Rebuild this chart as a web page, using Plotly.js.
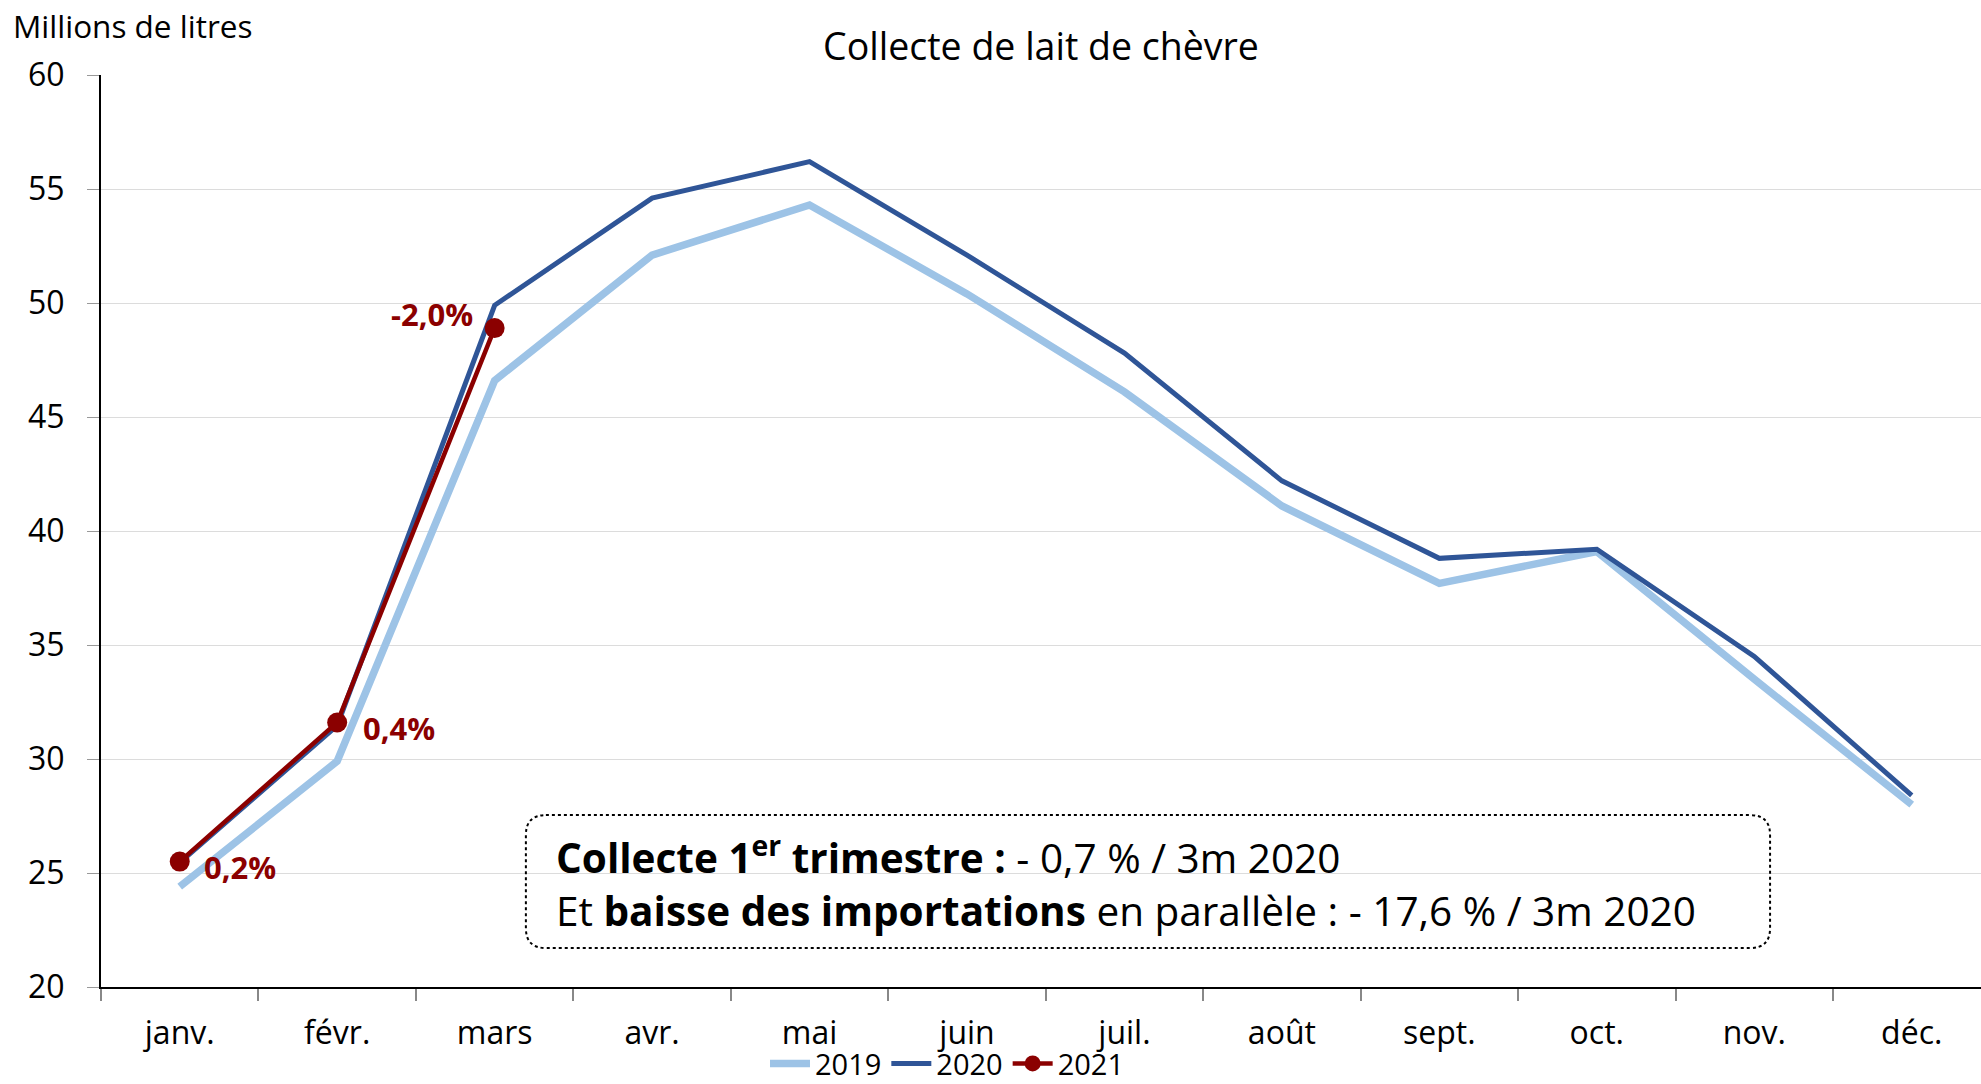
<!DOCTYPE html>
<html>
<head>
<meta charset="utf-8">
<script src="https://cdn.plot.ly/plotly-3.0.1.min.js"></script>
<style>html,body{margin:0;padding:0;background:#fff;}#chart{width:1981px;height:1084px;}</style>
</head>
<body>
<div id="chart"></div>
<script>
const months = ["janv.","févr.","mars","avr.","mai","juin","juil.","août","sept.","oct.","nov.","déc."];
const values2019 = [24.4, 29.9, 46.6, 52.1, 54.3, 50.4, 46.1, 41.1, 37.7, 39.1, 33.5, 28.0];
const values2020 = [25.45, 31.47, 49.9, 54.6, 56.2, 52.1, 47.8, 42.2, 38.8, 39.2, 34.5, 28.4];
const values2021 = [25.5, 31.6, 48.9];
const labels2021 = ["0,2%", "0,4%", "-2,0%"];
const seriesNames = ["2019", "2020", "2021"];
const chartTitle = "Collecte de lait de chèvre";
const yTitle = "Millions de litres";
const boxText = "<b>Collecte 1<sup>er</sup> trimestre :</b> - 0,7 % / 3m 2020<br>Et <b>baisse des importations</b> en parallèle : - 17,6 % / 3m 2020";

const FONT = "'Open Sans', 'Noto Sans', sans-serif";
const RED = "#8B0000";

const traces = [
  {x: months, y: values2019, name: seriesNames[0], type: "scatter", mode: "lines",
   line: {color: "#9DC3E6", width: 7.5}},
  {x: months, y: values2020, name: seriesNames[1], type: "scatter", mode: "lines",
   line: {color: "#2F5597", width: 5}},
  {x: months.slice(0, values2021.length), y: values2021, name: seriesNames[2], type: "scatter", mode: "lines+markers",
   line: {color: RED, width: 4.5}, marker: {color: RED, size: 20}}
];

const labelOffsets = [
  {xanchor: "left", xshift: 22, yshift: -5},
  {xanchor: "left", xshift: 24, yshift: -5},
  {xanchor: "right", xshift: -20, yshift: 14}
];
const annotations = values2021.map((v, i) => Object.assign({
  x: months[i], y: v, xref: "x", yref: "y", text: "<b>" + labels2021[i] + "</b>",
  showarrow: false, yanchor: "middle", font: {family: FONT, size: 31, color: RED}
}, labelOffsets[i]));

annotations.push({
  xref: "paper", yref: "paper", x: -0.0478, y: 1.054, xanchor: "left", yanchor: "middle",
  text: yTitle, showarrow: false, font: {family: FONT, size: 31.5, color: "#000"}
});
annotations.push({
  xref: "paper", yref: "paper", x: 0.241, y: 0.115, xanchor: "left", yanchor: "middle",
  text: boxText, showarrow: false, align: "left", font: {family: FONT, size: 40.5, color: "#000"}
});

const bx0 = 0.226, bx1 = 0.8878, by0 = 0.0427, by1 = 0.1885;
const rx = 20 / 1880, ry = 20 / 912.5;
const boxPath = `M${bx0 + rx},${by1} L${bx1 - rx},${by1} Q${bx1},${by1} ${bx1},${by1 - ry} ` +
  `L${bx1},${by0 + ry} Q${bx1},${by0} ${bx1 - rx},${by0} L${bx0 + rx},${by0} ` +
  `Q${bx0},${by0} ${bx0},${by0 + ry} L${bx0},${by1 - ry} Q${bx0},${by1} ${bx0 + rx},${by1} Z`;

const layout = {
  width: 1981, height: 1084,
  margin: {l: 101, r: 0, t: 74.5, b: 97, pad: 0, autoexpand: false},
  paper_bgcolor: "#fff", plot_bgcolor: "#fff",
  font: {family: FONT, size: 32, color: "#000"},
  title: {text: chartTitle, x: 0.5, xref: "paper", y: 0.957, yref: "container", yanchor: "middle",
          font: {family: FONT, size: 37.5, color: "#000"}},
  xaxis: {
    type: "category", range: [-0.5, 11.44], automargin: false,
    showline: true, linecolor: "#000", linewidth: 2,
    ticks: "outside", tickson: "boundaries", ticklen: 12, tickcolor: "#888", tickwidth: 2,
    showgrid: false, zeroline: false, ticklabelstandoff: 17,
    tickfont: {family: FONT, size: 32, color: "#000"}
  },
  yaxis: {
    range: [20, 60], dtick: 5, tick0: 20, automargin: false,
    showline: true, linecolor: "#000", linewidth: 2,
    ticks: "outside", ticklen: 12, tickcolor: "#999", tickwidth: 1,
    showgrid: true, gridcolor: "#DCDCDC", gridwidth: 1, zeroline: false,
    ticklabelstandoff: 16,
    tickfont: {family: FONT, size: 32, color: "#000"}
  },
  showlegend: true,
  legend: {orientation: "h", x: 0.45, xanchor: "center", y: -0.084, yanchor: "middle",
           font: {family: FONT, size: 29, color: "#000"}, itemwidth: 40, tracegroupgap: 0,
           bgcolor: "rgba(0,0,0,0)"},
  shapes: [{type: "path", xref: "paper", yref: "paper", path: boxPath,
            line: {color: "#000", width: 2, dash: "dot"}, fillcolor: "rgba(0,0,0,0)"}],
  annotations: annotations
};

Plotly.newPlot("chart", traces, layout, {displayModeBar: false, staticPlot: true});
</script>
</body>
</html>
